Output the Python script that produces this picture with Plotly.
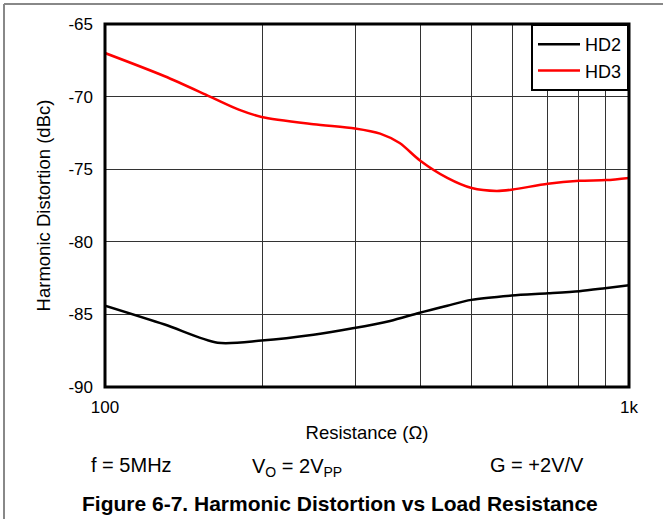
import plotly.graph_objects as go

resistance_hd2 = [100, 130, 164, 199, 250, 297, 350, 397, 450, 500, 597, 700, 804, 900, 1000]
hd2 = [-84.4, -85.7, -86.95, -86.8, -86.4, -85.96, -85.45, -84.9, -84.4, -84.0, -83.7, -83.55, -83.4, -83.2, -83.0]

resistance_hd3 = [100, 130, 158.6, 180, 199, 250, 300, 335, 365, 399, 450, 501, 559, 600, 700, 804, 905, 1000]
hd3 = [-67.0, -68.6, -70.0, -70.9, -71.4, -71.9, -72.2, -72.55, -73.2, -74.4, -75.6, -76.3, -76.5, -76.4, -76.0, -75.8, -75.75, -75.6]

x_tickvals = [100, 200, 300, 400, 500, 600, 700, 800, 900, 1000]
x_ticktext = ["100", "", "", "", "", "", "", "", "", "1k"]
y_tickvals = [-90, -85, -80, -75, -70, -65]
y_ticktext = ["-90", "-85", "-80", "-75", "-70", "-65"]

FONT = "Liberation Sans, Arial, sans-serif"

fig = go.Figure()
fig.add_trace(go.Scatter(x=resistance_hd2, y=hd2, mode="lines", name="HD2",
                         line=dict(color="black", width=2.5, shape="spline", smoothing=0.8)))
fig.add_trace(go.Scatter(x=resistance_hd3, y=hd3, mode="lines", name="HD3",
                         line=dict(color="#ff0000", width=2.5, shape="spline", smoothing=0.8)))

fig.update_layout(
    width=663, height=519,
    margin=dict(l=105, r=34, t=24, b=132),
    paper_bgcolor="white", plot_bgcolor="white",
    font=dict(family=FONT, size=17, color="black"),
    showlegend=True,
    legend=dict(x=1, y=1, xanchor="right", yanchor="top",
                bordercolor="black", borderwidth=2, bgcolor="white",
                font=dict(size=18), itemwidth=42,
                tracegroupgap=0),
    xaxis=dict(type="log", range=[2, 3], tickvals=x_tickvals, ticktext=x_ticktext,
               showgrid=True, gridcolor="#333", gridwidth=1, zeroline=False,
               ticks="", tickfont=dict(size=17), ticklabelstandoff=8,
               title=dict(text="Resistance (Ω)", font=dict(size=18.5), standoff=10)),
    yaxis=dict(range=[-90, -65], tickvals=y_tickvals, ticktext=y_ticktext,
               showgrid=True, gridcolor="#333", gridwidth=1, zeroline=False,
               ticks="", tickfont=dict(size=17), ticklabelstandoff=11,
               title=dict(text="Harmonic Distortion (dBc)", font=dict(size=18.5), standoff=12)),
)

# plot frame
fig.add_shape(type="rect", xref="paper", yref="paper", x0=0, x1=1, y0=0, y1=1,
              line=dict(color="black", width=3), layer="above")
# outer grey page frame (top and left)
fig.add_shape(type="line", xref="paper", yref="paper",
              x0=-101/524, x1=(663-105)/524, y0=(387-4)/363, y1=(387-4)/363,
              line=dict(color="#888", width=2))
fig.add_shape(type="line", xref="paper", yref="paper",
              x0=-101/524, x1=-101/524, y0=(387-4)/363, y1=-(519-387)/363,
              line=dict(color="#888", width=2))

def px_x(x):
    return (x - 105) / 524

def px_y(y):
    return (387 - y) / 363

fig.add_annotation(text="f = 5MHz", xref="paper", yref="paper", x=px_x(89), y=px_y(465),
                   xanchor="left", yanchor="middle", showarrow=False, font=dict(size=20))
fig.add_annotation(text="V<sub>O</sub> = 2V<sub>PP</sub>", xref="paper", yref="paper", x=px_x(250), y=px_y(467),
                   xanchor="left", yanchor="middle", showarrow=False, font=dict(size=20))
fig.add_annotation(text="G = +2V/V", xref="paper", yref="paper", x=px_x(488), y=px_y(465),
                   xanchor="left", yanchor="middle", showarrow=False, font=dict(size=20))
fig.add_annotation(text="<b>Figure 6-7. Harmonic Distortion vs Load Resistance</b>", xref="paper", yref="paper",
                   x=px_x(340), y=px_y(503), xanchor="center", yanchor="middle", showarrow=False,
                   font=dict(size=21))

fig.write_html("out.html", config={"displayModeBar": False},
               post_script="document.body.style.margin='0';")
